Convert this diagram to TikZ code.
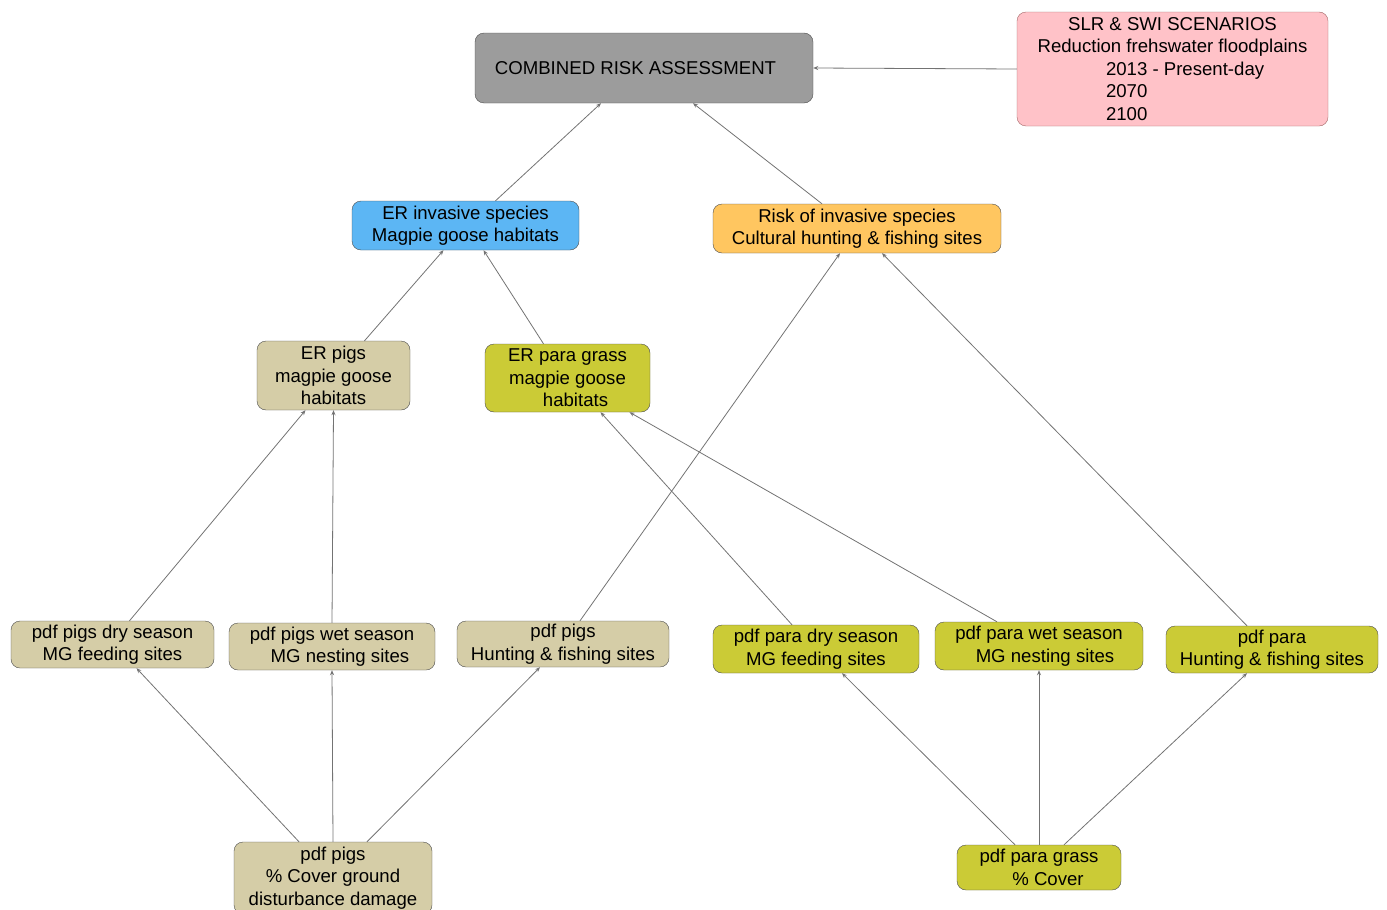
\documentclass[tikz,border=0pt]{standalone}
\usepackage{fontspec}
\setmainfont{Liberation Sans}
\usetikzlibrary{arrows.meta}
\definecolor{cragray}{HTML}{9C9C9C}
\definecolor{scenpink}{HTML}{FFC2C8}
\definecolor{erblue}{HTML}{5CB6F4}
\definecolor{riskorange}{HTML}{FFC660}
\definecolor{pigtan}{HTML}{D5CDA7}
\definecolor{paraolive}{HTML}{CBCB36}

\begin{document}
\begin{tikzpicture}[x=1pt,y=-1pt,
    box/.style={draw=black!70,rounded corners=9pt,align=center,inner sep=2pt,
      font=\fontsize{18.6}{22.5}\selectfont},
    link/.style={draw=black!55,line width=0.8pt,-{Stealth[length=5pt,width=4pt]}}]
    \useasboundingbox (0,0) rectangle (1387,910);
    \node[box,fill=cragray,minimum width=338pt,minimum height=70pt] (cra) at (644,68) {COMBINED RISK ASSESSMENT\hspace{17pt}};
    \node[box,fill=scenpink,draw=red!40!black!60,minimum width=311pt,minimum height=114pt] (slr) at (1172.5,69)
      {SLR \& SWI SCENARIOS\\Reduction frehswater floodplains\\
       \hspace{32pt}\makebox[165pt][l]{2013 - Present-day}\\\hspace{32pt}\makebox[165pt][l]{2070}\\\hspace{32pt}\makebox[165pt][l]{2100}};
    \node[box,fill=erblue,minimum width=227pt,minimum height=49pt] (erinv) at (465.5,225.5) {ER invasive species\\Magpie goose habitats};
    \node[box,fill=riskorange,minimum width=288pt,minimum height=49pt] (risk) at (857,228.5) {Risk of invasive species\\Cultural hunting \& fishing sites};
    \node[box,fill=pigtan,minimum width=153pt,minimum height=69pt] (erpigs) at (333.5,375.5) {ER pigs\\magpie goose\\habitats};
    \node[box,fill=paraolive,minimum width=165pt,minimum height=68pt] (erpara) at (567.5,378) {ER para grass\\magpie goose\hspace{16pt}\\\hspace{16pt}habitats};
    \node[box,fill=pigtan,minimum width=203pt,minimum height=47pt] (pigsdry) at (112.5,644.5) {pdf pigs dry season\\MG feeding sites};
    \node[box,fill=pigtan,minimum width=206pt,minimum height=47pt] (pigswet) at (332,646.5) {pdf pigs wet season\\\hspace{16pt}MG nesting sites};
    \node[box,fill=pigtan,minimum width=212pt,minimum height=46pt] (pigshunt) at (563,644) {pdf pigs\\Hunting \& fishing sites};
    \node[box,fill=paraolive,minimum width=206pt,minimum height=48pt] (paradry) at (816,649) {pdf para dry season\\MG feeding sites};
    \node[box,fill=paraolive,minimum width=208pt,minimum height=48pt] (parawet) at (1039,646) {pdf para wet season\\\hspace{12pt}MG nesting sites};
    \node[box,fill=paraolive,minimum width=212pt,minimum height=47pt] (parahunt) at (1272,649.5) {pdf para\\Hunting \& fishing sites};
    \node[box,fill=pigtan,minimum width=198pt,minimum height=72pt] (pigscover) at (333,878) {pdf pigs\\\% Cover ground\\disturbance damage};
    \node[box,fill=paraolive,minimum width=164pt,minimum height=45pt] (paracover) at (1039,867.5) {pdf para grass\\\hspace{18pt}\% Cover};
    \draw[link] (slr.west) -- (cra.east);
    \draw[link] ([xshift=30pt]erinv.north) -- ([xshift=-43pt]cra.south);
    \draw[link] ([xshift=-35pt]risk.north) -- ([xshift=49pt]cra.south);
    \draw[link] ([xshift=31pt]erpigs.north) -- ([xshift=-22pt]erinv.south);
    \draw[link] ([xshift=-24pt]erpara.north) -- ([xshift=18pt]erinv.south);
    \draw[link] ([xshift=17pt]pigsdry.north) -- ([xshift=-28pt]erpigs.south);
    \draw[link] (pigswet.north) -- (erpigs.south);
    \draw[link] ([xshift=17pt]pigshunt.north) -- ([xshift=-17pt]risk.south);
    \draw[link] ([xshift=-24pt]paradry.north) -- ([xshift=33pt]erpara.south);
    \draw[link] ([xshift=-42pt]parawet.north) -- ([xshift=62pt]erpara.south);
    \draw[link] ([xshift=-25pt]parahunt.north) -- ([xshift=25pt]risk.south);
    \draw[link] ([xshift=-34pt]pigscover.north) -- ([xshift=24pt]pigsdry.south);
    \draw[link] (pigscover.north) -- (pigswet.south);
    \draw[link] ([xshift=34pt]pigscover.north) -- ([xshift=-23pt]pigshunt.south);
    \draw[link] ([xshift=-24pt]paracover.north) -- ([xshift=26pt]paradry.south);
    \draw[link] (paracover.north) -- (parawet.south);
    \draw[link] ([xshift=25pt]paracover.north) -- ([xshift=-25pt]parahunt.south);
\end{tikzpicture}
\end{document}
